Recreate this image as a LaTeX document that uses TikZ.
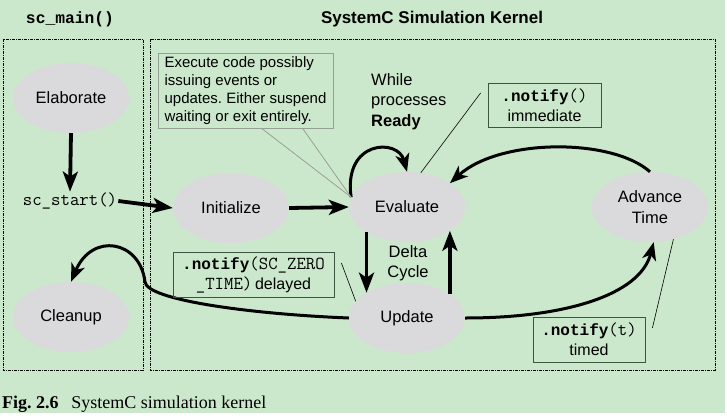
\documentclass[tikz,border=0pt]{standalone}
\usepackage{fontspec}
\setmainfont{Liberation Sans}
\newfontfamily\capfont{Liberation Serif}
\newfontfamily\bmono{Liberation Mono}
\usetikzlibrary{shapes.geometric,arrows.meta,calc}
\frenchspacing
\definecolor{bggreen}{RGB}{204,232,204}
\definecolor{ellgray}{RGB}{218,218,220}
\definecolor{boxgray}{RGB}{150,160,150}
\definecolor{boxdark}{RGB}{60,85,65}
\newcommand{\bm}[1]{{\bmono\bfseries #1}}
\newcommand{\tm}[1]{{\ttfamily\fontsize{18.3}{20}\selectfont #1}}
\tikzset{
  ell/.style={ellipse, fill=ellgray, minimum width=116pt, minimum height=70pt, inner sep=0pt, font=\fontsize{16.5}{20}\selectfont, align=center},
  frame/.style={draw=black, line width=0.9pt, dash pattern=on 3pt off 1pt on 1pt off 1pt},
  arr/.style={line width=3.8pt, -{Stealth[length=20pt,width=15pt,inset=5pt]}},
  carr/.style={line width=3pt, -{Stealth[length=18pt,width=14pt,inset=5pt]}},
  notebox/.style={draw=boxdark, line width=0.8pt, inner sep=0pt, align=center, font=\fontsize{16}{20}\selectfont},
  leader/.style={draw=black, line width=0.6pt},
  gleader/.style={draw=boxgray, line width=0.8pt},
}
\begin{document}
\begin{tikzpicture}[x=1pt,y=-1pt]
\useasboundingbox (0,0) rectangle (727,415);
\fill[white] (0,0) rectangle (727,415);
\fill[bggreen] (0,0) rectangle (725,413);
% frames
\draw[frame] (3,39) rectangle (143,370);
\draw[frame] (150,39) rectangle (715,370);
% titles
\node[font=\fontsize{16.3}{20}\selectfont] (ttlmain) at (70,19) {\bm{sc\_main()}};
\node[font=\bfseries\fontsize{17}{20}\selectfont] (ttlkern) at (432,19) {SystemC Simulation Kernel};
% ellipses
\node[ell] (elab) at (71,98) {Elaborate};
\node[ell] (init) at (231,208) {Initialize};
\node[ell] (eval) at (407,207) {Evaluate};
\node[ell] (upd) at (407,318) {Update};
\node[ell] (clean) at (71,317) {Cleanup};
\node[ell] (adv) at (650,207) {Advance\\[1pt]Time};
\node[inner sep=1pt] (start) at (70,201) {\tm{sc\_start()}};
% straight arrows
\draw[arr] (elab.south) -- (start.north);
\draw[arr] (start.east) -- (init.west);
\draw[arr] (init.east) -- (eval.west);
\draw[arr] (eval.212) -- (upd.148);
\draw[arr] (upd.29) -- (eval.331);
% curved arrows
\draw[carr] (eval.170) .. controls (343,140) and (398,138) .. (eval.north);
\draw[carr] (adv.north) .. controls (612,138) and (500,138) .. (eval.29);
\draw[carr] (upd.east) .. controls (565,318) and (640,295) .. (adv.276);
\draw[carr] (upd.west) .. controls (250,314) and (147,300) .. (145,282)
   .. controls (140,240) and (92,232) .. (clean.north);
% delta cycle text
\node[font=\fontsize{16.5}{20}\selectfont, align=center] (delta) at (408,263) {Delta\\Cycle};
% execute note
\node[draw=boxgray, line width=0.8pt, align=left, inner sep=0pt, minimum width=175pt, minimum height=75pt,
      font=\fontsize{15}{18}\selectfont] (exec) at (245.5,90.5)
  {Execute code possibly\\issuing events or\\updates. Either suspend\\waiting or exit entirely.};
\draw[gleader] ($(exec.south west)+(104,0)$) -- (eval.170);
\draw[gleader] ($(exec.south west)+(145,0)$) -- (eval.170);
% while text
\node[anchor=north west, align=left, inner sep=0pt, font=\fontsize{16.5}{20.5}\selectfont] (while) at (371,73)
  {While\\processes\\\textbf{Ready}};
% notify boxes
\node[notebox, minimum width=113pt, minimum height=44pt] (imm) at (544.5,105)
  {\bm{.notify}\tm{()}\\immediate};
\draw[leader] ($(imm.west)+(-7,-12)$) -- (eval.68);
\node[notebox, minimum width=161pt, minimum height=45pt] (del) at (253.5,274.5)
  {\bm{.notify}\tm{(SC\_ZERO}\\\tm{\_TIME)}\,delayed};
\draw[leader] ($(del.east)+(7,-11.5)$) -- (upd.162);
\node[notebox, minimum width=112pt, minimum height=45pt] (tim) at (589,339.5)
  {\bm{.notify}\tm{(t)}\\timed};
\draw[leader] ($(tim.east)+(7,-11.5)$) -- (adv.306);
% caption
\node[anchor=base west, inner sep=0pt, font=\capfont\fontsize{18}{20}\selectfont] (cap) at (2,408)
  {\textbf{Fig. 2.6}\hspace{0.7em}SystemC simulation kernel};
\end{tikzpicture}
\end{document}
